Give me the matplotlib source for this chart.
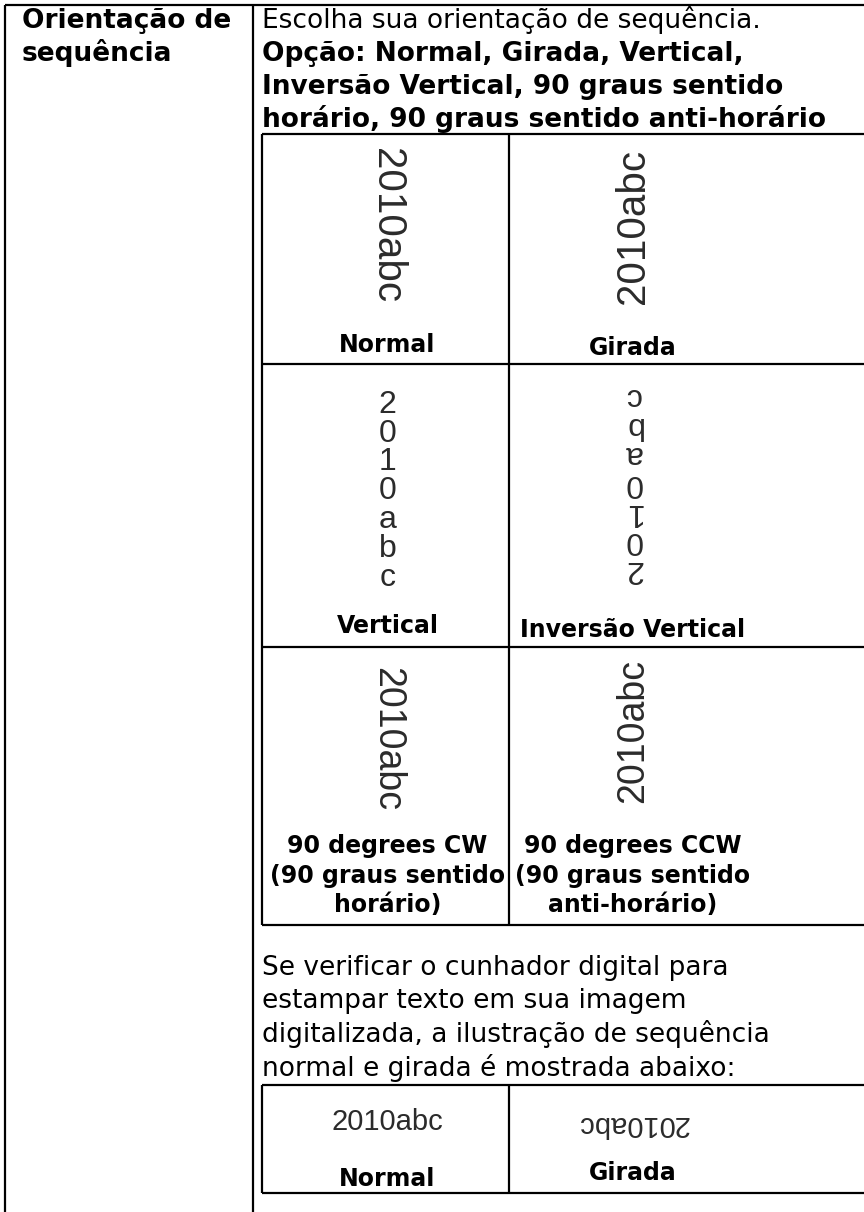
import matplotlib.pyplot as plt

# text content
header_lines = ["Orientação de", "sequência"]
intro_line = "Escolha sua orientação de sequência."
option_lines = ["Opção: Normal, Girada, Vertical,",
                "Inversão Vertical, 90 graus sentido",
                "horário, 90 graus sentido anti-horário"]
sample = "2010abc"
row_labels = [["Normal", "Girada"],
              ["Vertical", "Inversão Vertical"],
              ["90 degrees CW\n(90 graus sentido\nhorário)",
               "90 degrees CCW\n(90 graus sentido\nanti-horário)"]]
note_lines = ["Se verificar o cunhador digital para",
              "estampar texto em sua imagem",
              "digitalizada, a ilustração de sequência",
              "normal e girada é mostrada abaixo:"]
stamp_labels = ["Normal", "Girada"]

W, H = 864, 1212
LW = 1.6
INK = "black"
SAMPLE_INK = "#2b2b2b"

fig = plt.figure(figsize=(W / 100, H / 100), dpi=100)
ax = fig.add_axes([0, 0, 1, 1])
ax.set_xlim(0, W)
ax.set_ylim(H, 0)
ax.axis("off")

# outer table
ax.hlines(5, 5, W, color=INK, lw=LW)
ax.vlines([5, 253], 5, H, color=INK, lw=LW)

body = dict(fontsize=19, color=INK, family="DejaVu Sans")
bold = dict(body, fontweight="bold")

for i, s in enumerate(header_lines):
    ax.text(22, 28 + i * 33, s, va="baseline", **bold)
ax.text(262, 28, intro_line, va="baseline", **body)
for i, s in enumerate(option_lines):
    ax.text(262, 61 + i * 33, s, va="baseline", **bold)

# inner table
col_x = [262, 509, W]
row_y = [134, 364, 647, 925]
ax.hlines(row_y, col_x[0], col_x[-1], color=INK, lw=LW)
ax.vlines(col_x[:2], row_y[0], row_y[-1], color=INK, lw=LW)
centers = [(col_x[0] + col_x[1]) / 2 + 2, 633]

lab = dict(fontsize=17, color=INK, family="DejaVu Sans", fontweight="bold",
           ha="center", va="baseline")
samp = dict(color=SAMPLE_INK, family="Liberation Sans", ha="center",
            va="center", rotation_mode="anchor")

# row 1: Normal / Girada
ax.text(centers[0], 226, sample, fontsize=29, rotation=-90, **samp)
ax.text(centers[1], 226, sample, fontsize=29, rotation=90, **samp)
ax.text(centers[0], 352, row_labels[0][0], **lab)
ax.text(centers[1], 355, row_labels[0][1], **lab)

# row 2: Vertical / Inversao Vertical
first, step = 413, 28.75
mid = (388 + 586) / 2
for i, ch in enumerate(sample):
    ax.text(centers[0], first + i * step, ch, fontsize=23, color=SAMPLE_INK,
            family="Liberation Sans", ha="center", va="baseline",
            rotation_mode="anchor")
for i, ch in enumerate(sample):
    ax.text(centers[1], 2 * mid - (first + i * step), ch, fontsize=23,
            color=SAMPLE_INK, family="Liberation Sans", ha="center",
            va="baseline", rotation=180, rotation_mode="anchor")
ax.text(centers[0], 633, row_labels[1][0], **lab)
ax.text(centers[1], 637, row_labels[1][1], **lab)

# row 3: 90 degrees CW / CCW
ax.text(centers[0], 739, sample, fontsize=27, rotation=-90, **samp)
ax.text(centers[1], 731, sample, fontsize=27, rotation=90, **samp)
for j in range(2):
    for i, s in enumerate(row_labels[2][j].split("\n")):
        ax.text(centers[j], 853 + i * 29.5, s, **lab)

# note paragraph
for i, s in enumerate(note_lines):
    ax.text(262, 975 + i * 33.5, s, va="baseline", **body)

# stamp table
stamp_y = [1085, 1193]
ax.hlines(stamp_y, col_x[0], col_x[-1], color=INK, lw=LW)
ax.vlines(col_x[:2], stamp_y[0], stamp_y[1], color=INK, lw=LW)
ax.text(centers[0], 1122, sample, fontsize=21, **dict(samp))
ax.text(centers[1], 1124, sample, fontsize=21, rotation=180, **samp)
ax.text(centers[0], 1186, stamp_labels[0], **lab)
ax.text(centers[1], 1180, stamp_labels[1], **lab)

fig.savefig("out.png", dpi=100, facecolor="white")
